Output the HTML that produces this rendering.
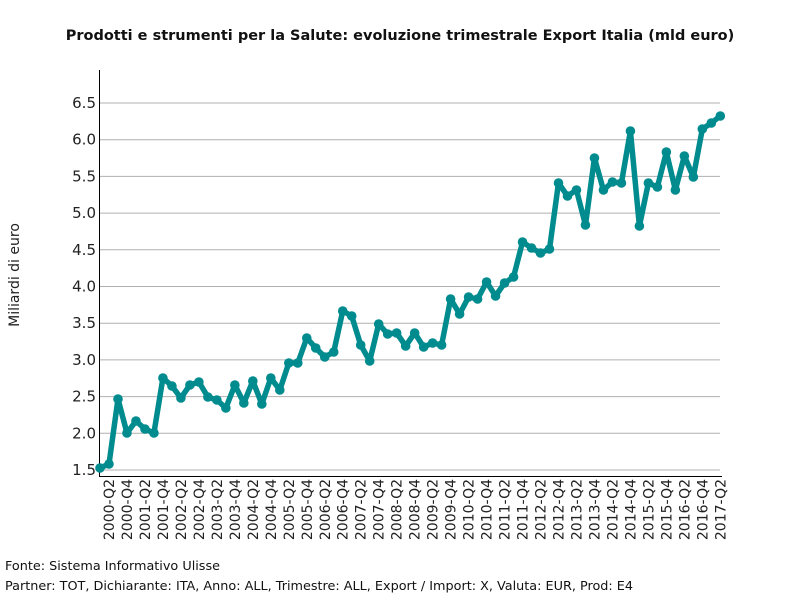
<!DOCTYPE html>
<html><head><meta charset="utf-8"><style>body{margin:0;background:#fff}svg{display:block}text{font-family:"DejaVu Sans","Liberation Sans",sans-serif}</style></head>
<body>
<svg width="800" height="600" xmlns="http://www.w3.org/2000/svg">
<rect width="800" height="600" fill="#fff"/>
<text x="400" y="40" text-anchor="middle" font-size="14.5" font-weight="bold" fill="#111">Prodotti e strumenti per la Salute: evoluzione trimestrale Export Italia (mld euro)</text>
<g id="grid" stroke="#b0b0b0" stroke-width="1"></g>
<line x1="99.5" y1="70" x2="99.5" y2="477" stroke="#000"/>
<line x1="99" y1="476.5" x2="722" y2="476.5" stroke="#000"/>
<g id="yl" font-size="15" fill="#222" text-anchor="end"></g>
<g id="xl" font-size="14" fill="#222"></g>
<text transform="translate(19,275) rotate(-90)" text-anchor="middle" font-size="14" fill="#222">Miliardi di euro</text>
<polyline id="ln" fill="none" stroke="#008b8e" stroke-width="5.5" stroke-linejoin="round"/>
<g id="pts" fill="#008b8e"></g>
<text x="5" y="570" font-size="12.8" fill="#111">Fonte: Sistema Informativo Ulisse</text>
<text x="5" y="590" font-size="12.8" fill="#111">Partner: TOT, Dichiarante: ITA, Anno: ALL, Trimestre: ALL, Export / Import: X, Valuta: EUR, Prod: E4</text>
<script>
var ns="http://www.w3.org/2000/svg";
function Y(v){return 470-(v-1.5)*73.4;}
var g=document.getElementById('grid'),yl=document.getElementById('yl');
for(var i=0;i<=10;i++){var v=1.5+i*0.5,y=Y(v);
var l=document.createElementNS(ns,'line');l.setAttribute('x1',100);l.setAttribute('x2',720);l.setAttribute('y1',y);l.setAttribute('y2',y);g.appendChild(l);
var t=document.createElementNS(ns,'text');t.setAttribute('x',96);t.setAttribute('y',y+5);t.textContent=v.toFixed(1);yl.appendChild(t);}
var ys=[468,464,399,433,421,429,433,378,386,398,385,382,397,400,408,385,403,381,404,378,390,363,363,338,348,357,352,311,316,345,361,324,334,333,346,333,347,343,345,299,314,297,299,282,296,283,277,242,248,253,249,183,196,190,225,158,190,182,183,131,226,183,187,152,190,156,177,129,123,116];
var p=[],pts=document.getElementById('pts');
ys.forEach(function(y,i){var x=100+i*8.99;p.push(x+','+y);
var c=document.createElementNS(ns,'circle');c.setAttribute('cx',x);c.setAttribute('cy',y);c.setAttribute('r',4.8);pts.appendChild(c);});
document.getElementById('ln').setAttribute('points',p.join(' '));
var xl=document.getElementById('xl');
for(var i=1;i<70;i+=2){var yr=2000+Math.floor(i/4),q=i%4+1,x=100+i*8.99;
var t=document.createElementNS(ns,'text');t.setAttribute('transform','translate('+(x+5)+',479) rotate(-90)');t.setAttribute('text-anchor','end');t.textContent=yr+'-Q'+q;xl.appendChild(t);}
</script>
</svg>
</body></html>
